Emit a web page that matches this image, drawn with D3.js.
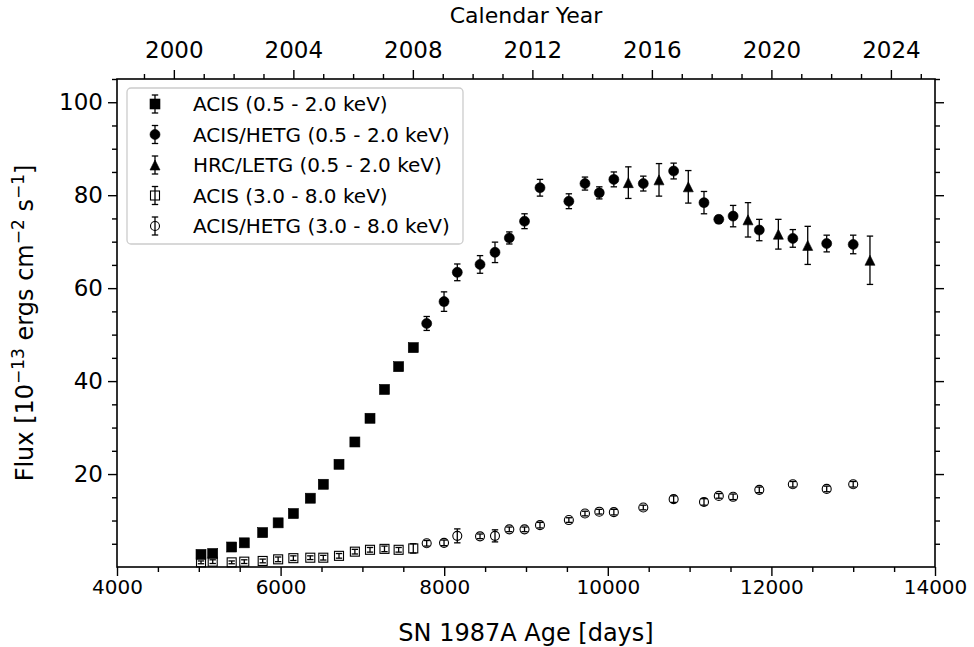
<!DOCTYPE html>
<html><head><meta charset="utf-8">
<script src="https://cdn.jsdelivr.net/npm/d3@7"></script>
<style>
body{margin:0;background:#fff;}
text{font-family:"DejaVu Sans",sans-serif;fill:#000;}
</style></head>
<body><svg id="chart" width="974" height="647"></svg>
<script>
// ---- data ----
const acisDays = [5027, 5170, 5402, 5556, 5781, 5970, 6156, 6363, 6522, 6714, 6908, 7093, 7270, 7443, 7622];
const acisSoft = [2.7, 2.9, 4.3, 5.2, 7.4, 9.5, 11.5, 14.8, 17.8, 22.1, 26.9, 32.0, 38.2, 43.1, 47.2];
const acisSoftErr = [0.3, 0.3, 0.3, 0.3, 0.3, 0.3, 0.4, 0.4, 0.4, 0.4, 0.4, 0.4, 0.5, 0.5, 0.5];
const acisHard = [1.0, 1.15, 1.0, 1.15, 1.3, 1.65, 1.9, 2.0, 2.0, 2.4, 3.3, 3.7, 3.9, 3.7, 4.0];
const acisHardErr = [0.3, 0.4, 0.3, 0.4, 0.4, 0.5, 0.5, 0.4, 0.5, 0.5, 0.5, 0.5, 0.6, 0.5, 1.0];

const hetgDays = [7786, 7998, 8160, 8438, 8621, 8796, 8982, 9171, 9524, 9721, 9896, 10074, 10434, 10805, 11176, 11357, 11532, 11852, 12262, 12676, 13000];
const hetgSoft = [52.4, 57.1, 63.4, 65.1, 67.7, 70.8, 74.4, 81.6, 78.7, 82.5, 80.5, 83.4, 82.5, 85.2, 78.4, 74.8, 75.5, 72.5, 70.7, 69.6, 69.4];
const hetgSoftErr = [1.5, 2.1, 1.8, 1.9, 2.2, 1.3, 1.6, 1.8, 1.6, 1.4, 1.3, 1.6, 1.6, 1.7, 2.4, 0.8, 2.3, 2.3, 1.9, 1.8, 2.0];
const hetgHard = [5.1, 5.2, 6.7, 6.6, 6.7, 8.1, 8.1, 9.0, 10.1, 11.5, 11.9, 11.8, 12.8, 14.6, 14.0, 15.3, 15.1, 16.6, 17.8, 16.8, 17.8];
const hetgHardErr = [0.6, 0.6, 1.5, 0.5, 1.3, 0.5, 0.5, 0.6, 0.5, 0.5, 0.5, 0.6, 0.5, 0.7, 0.7, 0.5, 0.6, 0.6, 0.6, 0.6, 0.6];

const letgDays = [10251, 10626, 10984, 11714, 12085, 12444, 13205];
const letgSoft = [82.7, 83.3, 81.8, 74.7, 71.6, 69.2, 66.0];
const letgErr = [3.4, 3.5, 3.5, 3.7, 3.2, 4.1, 5.2];

const xTicks = [4000, 6000, 8000, 10000, 12000, 14000];
const yTicks = [20, 40, 60, 80, 100];
const yearTicks = [2000, 2004, 2008, 2012, 2016, 2020, 2024];
const explosionYear = 1987.146;

const legendLabels = ["ACIS (0.5 - 2.0 keV)", "ACIS/HETG (0.5 - 2.0 keV)", "HRC/LETG (0.5 - 2.0 keV)", "ACIS (3.0 - 8.0 keV)", "ACIS/HETG (3.0 - 8.0 keV)"];

// ---- layout ----
const W = 974, H = 647;
const m = {left: 117, right: 39, top: 79, bottom: 80};
const svg = d3.select("#chart");
const x = d3.scaleLinear().domain([4000, 14000]).range([m.left, W - m.right]);
const y = d3.scaleLinear().domain([0, 105]).range([H - m.bottom, m.top]);
const xYear = d3.scaleLinear().domain([explosionYear + 4000 / 365.25, explosionYear + 14000 / 365.25]).range([m.left, W - m.right]);

const series = [
  {days: acisDays, vals: acisSoft, err: acisSoftErr, shape: "square", filled: true},
  {days: hetgDays, vals: hetgSoft, err: hetgSoftErr, shape: "circle", filled: true},
  {days: letgDays, vals: letgSoft, err: letgErr, shape: "triangle", filled: true},
  {days: acisDays, vals: acisHard, err: acisHardErr, shape: "square", filled: false},
  {days: hetgDays, vals: hetgHard, err: hetgHardErr, shape: "circle", filled: false}
];

function drawMarker(g, shape, filled, cx, cy) {
  const fill = filled ? "#000" : "none";
  const sw = filled ? 0.6 : 1.1;
  const s = filled ? 10 : 9;
  if (shape === "square") {
    g.append("rect").attr("x", cx - s/2).attr("y", cy - s/2).attr("width", s).attr("height", s)
      .attr("fill", fill).attr("stroke", "#000").attr("stroke-width", sw);
  } else if (shape === "circle") {
    g.append("circle").attr("cx", cx).attr("cy", cy).attr("r", s/2)
      .attr("fill", fill).attr("stroke", "#000").attr("stroke-width", sw);
  } else {
    const r = 5;
    g.append("path").attr("d", `M${cx},${cy - r}L${cx - r},${cy + r}L${cx + r},${cy + r}Z`)
      .attr("fill", fill).attr("stroke", "#000").attr("stroke-width", sw);
  }
}
function drawErr(g, cx, y1, y2) {
  g.append("line").attr("x1", cx).attr("x2", cx).attr("y1", y1).attr("y2", y2).attr("stroke", "#000").attr("stroke-width", 1.3);
  [y1, y2].forEach(yy => g.append("line").attr("x1", cx - 3.2).attr("x2", cx + 3.2).attr("y1", yy).attr("y2", yy).attr("stroke", "#000").attr("stroke-width", 1.3));
}

// ---- data marks ----
const plot = svg.append("g");
series.forEach(s => {
  const g = plot.append("g");
  s.days.forEach((d, i) => drawErr(g, x(d), y(s.vals[i] + s.err[i]), y(s.vals[i] - s.err[i])));
  s.days.forEach((d, i) => drawMarker(g, s.shape, s.filled, x(d), y(s.vals[i])));
});

// ---- axes ----
const range = (a, b, step) => d3.range(a, b + 1e-9, step);
function styleTicks(g, size) {
  g.select(".domain").remove();
  g.selectAll(".tick line").attr("stroke", "#000").attr("stroke-width", 1.4);
  g.selectAll(".tick text").attr("font-size", size).attr("font-family", "DejaVu Sans").attr("fill", "#000");
}

svg.append("g").attr("transform", `translate(0,${H - m.bottom})`)
  .call(d3.axisBottom(x).tickValues(xTicks).tickSize(9).tickPadding(4).tickFormat(d3.format("d"))).call(styleTicks, 20);
svg.append("g").attr("transform", `translate(0,${H - m.bottom})`)
  .call(d3.axisBottom(x).tickValues(range(4000, 14000, 500).filter(v => v % 2000)).tickSize(5).tickFormat("")).call(styleTicks, 20);
svg.append("g").attr("transform", `translate(${m.left},0)`)
  .call(d3.axisLeft(y).tickValues(yTicks).tickSize(9).tickPadding(5).tickFormat(d3.format("d"))).call(styleTicks, 23);
svg.append("g").attr("transform", `translate(${m.left},0)`)
  .call(d3.axisLeft(y).tickValues(range(5, 105, 5).filter(v => v % 20)).tickSize(5).tickFormat("")).call(styleTicks, 20);
svg.append("g").attr("transform", `translate(${W - m.right},0)`)
  .call(d3.axisRight(y).tickValues(yTicks).tickSize(9).tickFormat("")).call(styleTicks, 20);
svg.append("g").attr("transform", `translate(${W - m.right},0)`)
  .call(d3.axisRight(y).tickValues(range(5, 105, 5).filter(v => v % 20)).tickSize(5).tickFormat("")).call(styleTicks, 20);
svg.append("g").attr("transform", `translate(0,${m.top})`)
  .call(d3.axisTop(xYear).tickValues(yearTicks).tickSize(9).tickPadding(12).tickFormat(d3.format("d"))).call(styleTicks, 23);
svg.append("g").attr("transform", `translate(0,${m.top})`)
  .call(d3.axisTop(xYear).tickValues(d3.range(1999, 2026).filter(v => yearTicks.indexOf(v) < 0)).tickSize(5).tickFormat("")).call(styleTicks, 20);

svg.append("rect").attr("x", m.left).attr("y", m.top).attr("width", W - m.left - m.right).attr("height", H - m.top - m.bottom)
  .attr("fill", "none").attr("stroke", "#000").attr("stroke-width", 1.6);

// labels
svg.append("text").attr("x", (m.left + W - m.right) / 2).attr("y", 641).attr("text-anchor", "middle").attr("font-size", 24)
  .text("SN 1987A Age [days]");
svg.append("text").attr("x", (m.left + W - m.right) / 2).attr("y", 23).attr("text-anchor", "middle").attr("font-size", 22)
  .text("Calendar Year");
const yl = svg.append("text").attr("transform", `translate(33,${(m.top + H - m.bottom) / 2}) rotate(-90)`).attr("text-anchor", "middle").attr("font-size", 24);
const sup = 17;
yl.append("tspan").text("Flux [10");
yl.append("tspan").attr("font-size", sup).attr("dy", -9).text("\u221213");
yl.append("tspan").attr("dy", 9).text(" ergs cm");
yl.append("tspan").attr("font-size", sup).attr("dy", -9).text("\u22122");
yl.append("tspan").attr("dy", 9).text(" s");
yl.append("tspan").attr("font-size", sup).attr("dy", -9).text("\u22121");
yl.append("tspan").attr("dy", 9).text("]");

// legend
const lg = svg.append("g");
lg.append("rect").attr("x", 127).attr("y", 88).attr("width", 336).attr("height", 156).attr("rx", 4)
  .attr("fill", "#fff").attr("fill-opacity", 0.8).attr("stroke", "#cccccc").attr("stroke-width", 1.3);
legendLabels.forEach((lab, i) => {
  const cy = 104 + i * 30.5;
  const s = series[i];
  drawErr(lg, 155, cy - 9, cy + 9);
  drawMarker(lg, s.shape, s.filled, 155, cy);
  lg.append("text").attr("x", 193).attr("y", cy + 7).attr("font-size", 20).text(lab);
});
</script></body></html>
